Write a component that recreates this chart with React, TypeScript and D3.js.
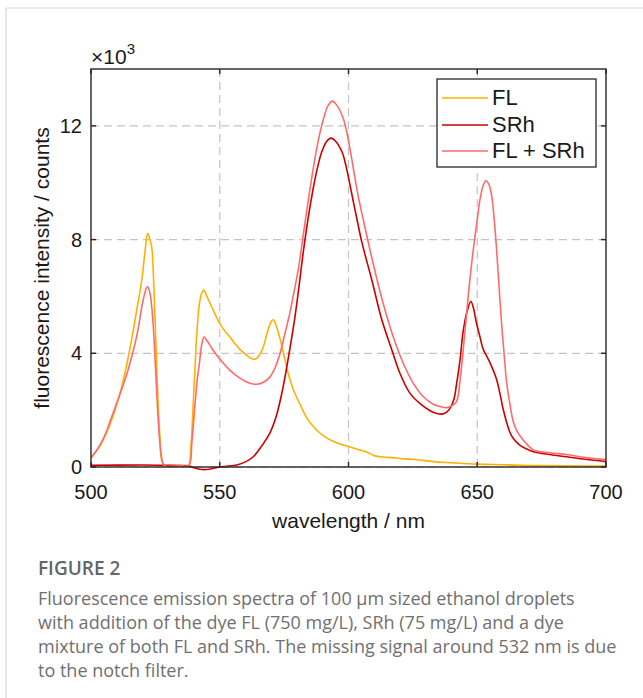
import React from "react";
import * as d3 from "d3";

// ---- data (counts) ----
const flWavelength = [500, 502, 504, 506, 508, 510, 512, 514, 516, 518, 519.7, 521, 522, 523, 523.6, 524.3, 524.9, 525.5, 526.1, 526.8, 527.4, 528.5, 530, 535, 537.8, 538.8, 539.7, 540.4, 541.0, 542.3, 543.2, 543.9, 545, 547.5, 550, 552, 554, 556, 558, 560.5, 562, 563.7, 565.5, 566.9, 568.5, 570, 570.8, 572, 574, 575.5, 576.6, 578.6, 581.2, 584, 587.6, 591, 595.4, 600, 604, 607, 610, 613, 617, 620, 625, 633, 640, 650, 660, 672, 685, 700];
const flCounts = [330, 550, 830, 1200, 1650, 2200, 2850, 3650, 4600, 5650, 6560, 7600, 8220, 7950, 7730, 6600, 5160, 3600, 2120, 1000, 250, 50, 50, 50, 50, 700, 2230, 3500, 4570, 5860, 6150, 6220, 6000, 5510, 5050, 4780, 4570, 4330, 4120, 3930, 3830, 3790, 3950, 4220, 4750, 5120, 5180, 4950, 4300, 3700, 3290, 2720, 2200, 1700, 1300, 1050, 850, 720, 610, 530, 400, 350, 330, 300, 270, 190, 150, 100, 80, 50, 40, 30];

const srhWavelength = [500, 520, 528, 535, 538, 540, 543, 546, 549, 552, 556.6, 560, 563, 566, 569.5, 572, 574, 575.7, 577.3, 579, 580.5, 582.5, 584.5, 586.4, 588, 589.6, 591.5, 593.2, 595, 597.5, 599, 601.4, 603.2, 605.2, 609.1, 613, 616.9, 620, 623.9, 627.8, 631.7, 634, 636.2, 638, 639.4, 641, 641.9, 643.3, 644.5, 646, 647.5, 648.5, 649.6, 651, 652.2, 654.8, 657.4, 659, 660, 662.6, 664, 666.5, 669, 671.8, 678, 684.7, 692, 700];
const srhCounts = [60, 70, 60, 50, 40, -30, -90, -80, -20, 20, 70, 180, 360, 700, 1200, 1800, 2550, 3350, 4200, 5150, 6150, 7600, 8850, 9850, 10550, 11080, 11450, 11570, 11460, 11080, 10600, 9550, 8750, 7900, 6560, 5160, 4100, 3290, 2590, 2230, 1980, 1890, 1860, 1920, 2060, 2400, 2880, 3750, 4750, 5450, 5820, 5600, 5100, 4600, 4170, 3700, 3110, 2500, 2060, 1240, 1000, 770, 640, 540, 440, 360, 270, 190];

const mixWavelength = [500, 502, 504, 506, 508, 510, 512, 514.5, 517.1, 518.5, 519.7, 521, 521.9, 522.8, 523.6, 524.3, 524.9, 525.5, 526.1, 526.8, 527.6, 528.5, 535, 538, 539.2, 540.4, 541.3, 542.1, 543, 543.9, 545, 547.5, 550, 554, 557, 560.5, 562.5, 564.4, 567, 569.5, 571.5, 573.4, 574.7, 576, 577.3, 578.6, 580.5, 582.5, 584.5, 586.4, 588.3, 590.3, 592, 593.7, 595.5, 598, 599.3, 601.9, 603.5, 605.8, 609.6, 613.5, 617.4, 621.3, 625.2, 629.1, 632.9, 635.5, 638.1, 640, 641.9, 643.5, 645.2, 646.8, 648.5, 650, 651.1, 652.3, 653.4, 654.5, 655.6, 656.5, 657.5, 658.5, 659.5, 660.5, 661.4, 662.7, 664, 665.5, 667.3, 669.5, 671.8, 678, 684.7, 692, 700];
const mixCounts = [330, 560, 860, 1250, 1760, 2250, 2750, 3450, 4340, 4950, 5620, 6150, 6350, 6150, 5620, 4800, 3750, 2700, 1650, 800, 250, 50, 50, 50, 900, 2230, 3100, 3640, 4300, 4570, 4450, 4100, 3800, 3400, 3180, 2990, 2930, 2910, 2980, 3170, 3500, 3990, 4460, 4950, 5450, 6050, 6950, 8200, 9450, 10550, 11500, 12250, 12700, 12870, 12720, 12250, 11800, 10500, 9650, 8670, 7150, 5740, 4570, 3640, 2940, 2470, 2210, 2130, 2090, 2150, 2290, 3200, 4750, 6300, 7670, 8700, 9430, 9900, 10070, 9950, 9540, 8800, 7670, 6300, 4980, 3900, 2990, 2200, 1590, 1250, 1010, 780, 600, 500, 440, 330, 260];

const seriesNames = ["FL", "SRh", "FL + SRh"];
const seriesColors = ["#FFB000", "#CC0000", "#FF6B6B"];
const xTicks = [500, 550, 600, 650, 700];
const yTicks = [0, 4000, 8000, 12000];
const captionTitle = "FIGURE 2";
const captionLines = [
  "Fluorescence emission spectra of 100 μm sized ethanol droplets",
  "with addition of the dye FL (750 mg/L), SRh (75 mg/L) and a dye",
  "mixture of both FL and SRh. The missing signal around 532 nm is due",
  "to the notch filter.",
];

const W = 643;
const H = 698;
const plot = { left: 91, right: 606, top: 69, bottom: 467 };
const axisFont = "'Liberation Sans', Arial, Helvetica, sans-serif";
const capFont = "'Open Sans', 'Noto Sans', sans-serif";
const axisColor = "#262626";

export default function App() {
  const x = d3.scaleLinear().domain([500, 700]).range([plot.left, plot.right]);
  const y = d3.scaleLinear().domain([0, 14000]).range([plot.bottom, plot.top]);
  const line = d3
    .line<[number, number]>()
    .x((d) => x(d[0]))
    .y((d) => y(d[1]))
    .curve(d3.curveCatmullRom.alpha(0.5));

  const series = [
    { w: flWavelength, c: flCounts },
    { w: srhWavelength, c: srhCounts },
    { w: mixWavelength, c: mixCounts },
  ].map((s) => s.w.map((w, i) => [w, s.c[i]] as [number, number]));

  const tickLen = 5;
  const legend = { x: 437, y: 79, w: 159, h: 88 };
  const legendRows = [98, 125, 151];

  return (
    <svg
      width={W}
      height={H}
      style={{ position: "absolute", left: 0, top: 0, background: "#fff" }}
    >
      <rect x={0} y={0} width={W} height={H} fill="#fff" />
      {/* outer figure frame */}
      <line x1={6} y1={8} x2={W} y2={8} stroke="#d6d6d6" strokeWidth={1.2} />
      <line x1={6} y1={8} x2={6} y2={H} stroke="#d6d6d6" strokeWidth={1.2} />

      {/* grid */}
      <g stroke="#c4c4c4" strokeWidth={1.2} strokeDasharray="8,5">
        {xTicks.slice(1, -1).map((t) => (
          <line key={"gx" + t} x1={x(t)} x2={x(t)} y1={plot.top} y2={plot.bottom} />
        ))}
        {yTicks.map((t) => (
          <line key={"gy" + t} x1={plot.left} x2={plot.right} y1={y(t)} y2={y(t)} />
        ))}
      </g>

      {/* series */}
      <defs>
        <clipPath id="plotclip">
          <rect x={plot.left} y={plot.top} width={plot.right - plot.left} height={plot.bottom - plot.top + 4} />
        </clipPath>
      </defs>
      <g clipPath="url(#plotclip)" fill="none" strokeWidth={1.6} strokeLinejoin="round">
        {series.map((s, i) => (
          <path key={i} d={line(s) || ""} stroke={seriesColors[i]} />
        ))}
      </g>

      {/* axes box */}
      <rect
        x={plot.left}
        y={plot.top}
        width={plot.right - plot.left}
        height={plot.bottom - plot.top}
        fill="none"
        stroke={axisColor}
        strokeWidth={1.4}
      />
      <g stroke={axisColor} strokeWidth={1.4}>
        {xTicks.map((t) => (
          <g key={"tx" + t}>
            <line x1={x(t)} x2={x(t)} y1={plot.bottom} y2={plot.bottom - tickLen} />
            <line x1={x(t)} x2={x(t)} y1={plot.top} y2={plot.top + tickLen} />
          </g>
        ))}
        {yTicks.map((t) => (
          <g key={"ty" + t}>
            <line x1={plot.left} x2={plot.left + tickLen} y1={y(t)} y2={y(t)} />
            <line x1={plot.right} x2={plot.right - tickLen} y1={y(t)} y2={y(t)} />
          </g>
        ))}
      </g>

      {/* tick labels */}
      <g fontFamily={axisFont} fontSize={20} fill="#1a1a1a">
        {xTicks.map((t) => (
          <text key={"lx" + t} x={x(t)} y={plot.bottom + 32} textAnchor="middle">
            {t}
          </text>
        ))}
        {yTicks.map((t) => (
          <text key={"ly" + t} x={plot.left - 9} y={y(t) + 7} textAnchor="end">
            {t / 1000}
          </text>
        ))}
        <text x={plot.left} y={plot.top - 5}>
          <tspan fontSize={21}>×</tspan>
          <tspan fontSize={21}>10</tspan>
          <tspan fontSize={15} dy={-10}>3</tspan>
        </text>
      </g>

      {/* axis titles */}
      <text
        x={(plot.left + plot.right) / 2}
        y={528}
        textAnchor="middle"
        fontFamily={axisFont}
        fontSize={21}
        fill="#1a1a1a"
      >
        wavelength / nm
      </text>
      <text
        transform={`translate(49, ${(plot.top + plot.bottom) / 2}) rotate(-90)`}
        textAnchor="middle"
        fontFamily={axisFont}
        fontSize={21}
        fill="#1a1a1a"
      >
        fluorescence intensity / counts
      </text>

      {/* legend */}
      <rect x={legend.x} y={legend.y} width={legend.w} height={legend.h} fill="#fff" stroke={axisColor} strokeWidth={1.3} />
      {seriesNames.map((n, i) => (
        <g key={"lg" + i}>
          <line x1={legend.x + 5} x2={legend.x + 51} y1={legendRows[i]} y2={legendRows[i]} stroke={seriesColors[i]} strokeWidth={1.6} />
          <text x={legend.x + 55} y={legendRows[i] + 7} fontFamily={axisFont} fontSize={22} fill="#1a1a1a">
            {n}
          </text>
        </g>
      ))}

      {/* caption */}
      <text x={38} y={575} fontFamily={capFont} fontSize={19} fontWeight={600} fill="#666">
        {captionTitle}
      </text>
      {captionLines.map((l, i) => (
        <text key={"cap" + i} x={38} y={605 + i * 24} fontFamily={capFont} fontSize={18} fill="#707070">
          {l}
        </text>
      ))}
    </svg>
  );
}
